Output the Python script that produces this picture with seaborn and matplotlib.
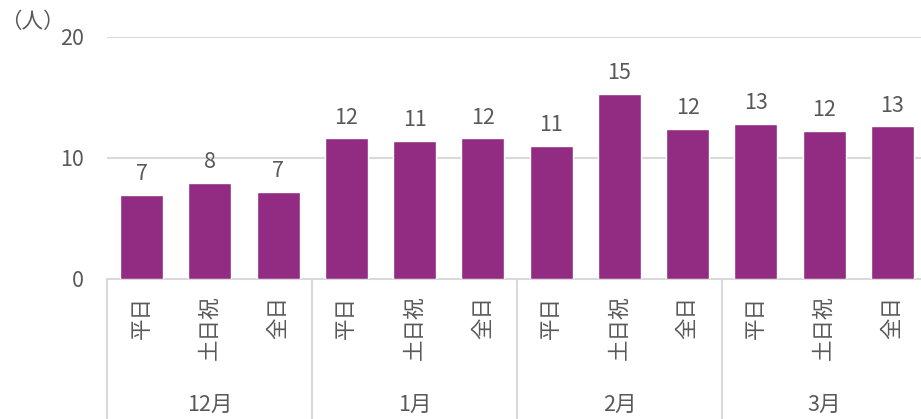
import matplotlib
matplotlib.use("Agg")
import matplotlib.pyplot as plt
import matplotlib.transforms as mtransforms
import seaborn as sns
import pandas as pd

months = ["12月", "1月", "2月", "3月"]
day_types = ["平日", "土日祝", "全日"]
values = [6.9, 7.9, 7.2, 11.6, 11.4, 11.6, 11.0, 15.3, 12.4, 12.8, 12.2, 12.6]
value_labels = ["7", "8", "7", "12", "11", "12", "11", "15", "12", "13", "12", "13"]
y_ticks = [0, 10, 20]
unit_label = "（人）"

sns.set_theme(style="white")
plt.rcParams["font.family"] = ["Noto Sans CJK JP", "DejaVu Sans"]

text_color = "#595959"
grid_color = "#D9D9D9"
bar_color = "#922C82"
fs = 15.5

keys, cats = [], []
for m in months:
    for d in day_types:
        keys.append(f"{m}-{d}")
        cats.append(d)
df = pd.DataFrame({"key": keys, "cat": cats, "value": values})

fig = plt.figure(figsize=(9.21, 4.19), dpi=100)
W, H = 921, 419
left_px, right_px = 107.4, 926.6
top_px, bottom_px = 37, 278.5
ax = fig.add_axes([left_px / W, (H - bottom_px) / H,
                   (right_px - left_px) / W, (bottom_px - top_px) / H])

sns.barplot(data=df, x="key", y="value", order=keys, color=bar_color,
            saturation=1, width=0.63, ax=ax, zorder=3)

ax.set_xlim(-0.5, len(keys) - 0.5)
ax.set_ylim(0, 20)
ax.set_yticks(y_ticks)
ax.set_yticklabels([str(t) for t in y_ticks], fontsize=fs, color=text_color)
for t in y_ticks[1:]:
    ax.axhline(t, color=grid_color, lw=1.5, zorder=1)

ax.set_xticks(range(len(keys)))
ax.set_xticklabels(cats, rotation=90, va="top", ha="center",
                   fontsize=fs, color=text_color)
ax.tick_params(axis="x", length=0, pad=12.5)
ax.tick_params(axis="y", length=0, pad=17)
ax.set_xlabel("")
ax.set_ylabel("")

for s in ["left", "right", "top"]:
    ax.spines[s].set_visible(False)
ax.spines["bottom"].set_color(grid_color)
ax.spines["bottom"].set_linewidth(1.5)

# value labels
for i, (v, lab) in enumerate(zip(values, value_labels)):
    ax.annotate(lab, (i, v), xytext=(0, 7), textcoords="offset points",
                ha="center", va="bottom", fontsize=fs, color=text_color)

# group separators
trans = mtransforms.blended_transform_factory(ax.transData, ax.transAxes)
ybot = -(H - bottom_px) / (bottom_px - top_px)
for b in [-0.5, 2.5, 5.5, 8.5, 11.5]:
    ax.plot([b, b], [0, ybot], color=grid_color, lw=1.5, transform=trans,
            clip_on=False)

# month labels
trans2 = mtransforms.blended_transform_factory(ax.transData, fig.transFigure)
for gi, m in enumerate(months):
    ax.text(gi * 3 + 1, (H - 405) / H, m, transform=trans2, ha="center",
            va="center", fontsize=fs, color=text_color)

fig.text(32 / W, (H - 22) / H, unit_label, ha="center", va="center",
         fontsize=fs, color=text_color)

fig.savefig("out.png", dpi=100)
